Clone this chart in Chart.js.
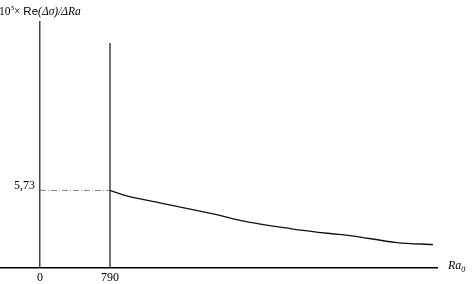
<!DOCTYPE html>
<html>
<head>
<meta charset="utf-8">
<script src="https://cdn.jsdelivr.net/npm/chart.js@4"></script>
<style>
  html, body { margin: 0; padding: 0; background: #fff; }
  #wrap { width: 473px; height: 284px; }
</style>
</head>
<body>
<div id="wrap"><canvas id="chart"></canvas></div>
<script>
// values
const raValues = [790, 959, 1354, 2031, 2257, 2821, 3273, 3499, 4029, 4435];
const sigmaValues = [5.73, 5.36, 4.80, 3.87, 3.50, 2.90, 2.53, 2.38, 1.86, 1.71];
const xTicks = [0, 790];
const xTickLabels = ['0', '790'];
const yTicks = [5.73];
const yTickLabels = ['5,73'];
const criticalRa = 790;
const xMin = -451, xMax = 4480;
const yMin = 0, yMax = 18.23;
const criticalTop = 16.67;

const serif = '"Liberation Serif", "DejaVu Serif", serif';
const sans = '"Liberation Sans", Arial, sans-serif';

const textPlugin = {
  id: 'texts',
  afterDraw(chart) {
    const ctx = chart.ctx;
    const x = chart.scales.x;
    const y = chart.scales.y;
    ctx.save();
    ctx.fillStyle = '#000';
    ctx.textBaseline = 'alphabetic';

    // y axis title
    let px = -1, base = 15;
    ctx.font = '11.5px ' + serif;
    ctx.fillText('10', px, base); px += ctx.measureText('10').width;
    ctx.font = '7px ' + serif;
    ctx.fillText('3', px, base - 5); px += ctx.measureText('3').width;
    ctx.font = '11.5px ' + serif;
    ctx.fillText('×', px, base); px += ctx.measureText('× ').width;
    ctx.font = '11.5px ' + sans;
    ctx.fillText('Re', px, base); px += ctx.measureText('Re').width;
    ctx.font = 'italic 11.5px ' + serif;
    ctx.fillText('(Δσ)/ΔRa', px, base);

    // y tick labels, left of the y axis line
    ctx.font = '12px ' + serif;
    ctx.textAlign = 'right';
    ctx.textBaseline = 'middle';
    yTicks.forEach((v, i) => {
      ctx.fillText(yTickLabels[i], x.getPixelForValue(0) - 5, y.getPixelForValue(v) - 5);
    });

    // x axis title
    ctx.textAlign = 'left';
    ctx.textBaseline = 'alphabetic';
    px = x.right + 11; base = chart.chartArea.bottom + 1;
    ctx.font = 'italic 12px ' + serif;
    ctx.fillText('Ra', px, base); px += ctx.measureText('Ra').width;
    ctx.font = 'italic 8px ' + serif;
    ctx.fillText('0', px, base + 3);
    ctx.restore();
  }
};

new Chart(document.getElementById('chart'), {
  type: 'scatter',
  data: {
    datasets: [
      {
        data: raValues.map((r, i) => ({ x: r, y: sigmaValues[i] })),
        showLine: true,
        borderColor: '#111',
        borderWidth: 1.3,
        pointRadius: 0,
        cubicInterpolationMode: 'monotone'
      },
      {
        data: [{ x: 0, y: sigmaValues[0] }, { x: criticalRa, y: sigmaValues[0] }],
        showLine: true,
        borderColor: '#666',
        borderWidth: 0.8,
        borderDash: [6, 2, 1, 2],
        pointRadius: 0
      },
      {
        data: [{ x: criticalRa, y: 0 }, { x: criticalRa, y: criticalTop }],
        showLine: true,
        borderColor: '#444',
        borderWidth: 1.5,
        pointRadius: 0
      }
    ]
  },
  options: {
    responsive: true,
    maintainAspectRatio: false,
    animation: false,
    layout: { padding: { top: 22, right: 36, left: 0, bottom: -4 } },
    scales: {
      x: {
        type: 'linear',
        min: xMin,
        max: xMax,
        grid: { display: false, drawTicks: false },
        border: { display: true, color: '#000', width: 1.5 },
        afterBuildTicks: axis => { axis.ticks = xTicks.map(v => ({ value: v })); },
        ticks: {
          autoSkip: false,
          maxRotation: 0,
          padding: 3,
          color: '#000',
          font: { family: serif, size: 12 },
          callback: v => xTickLabels[xTicks.indexOf(v)]
        }
      },
      y: {
        type: 'linear',
        position: { x: 0 },
        min: yMin,
        max: yMax,
        grid: { display: false },
        border: { display: true, color: '#444', width: 1.5 },
        ticks: { display: false }
      }
    },
    plugins: {
      legend: { display: false },
      tooltip: { enabled: false }
    }
  },
  plugins: [textPlugin]
});
</script>
</body>
</html>
